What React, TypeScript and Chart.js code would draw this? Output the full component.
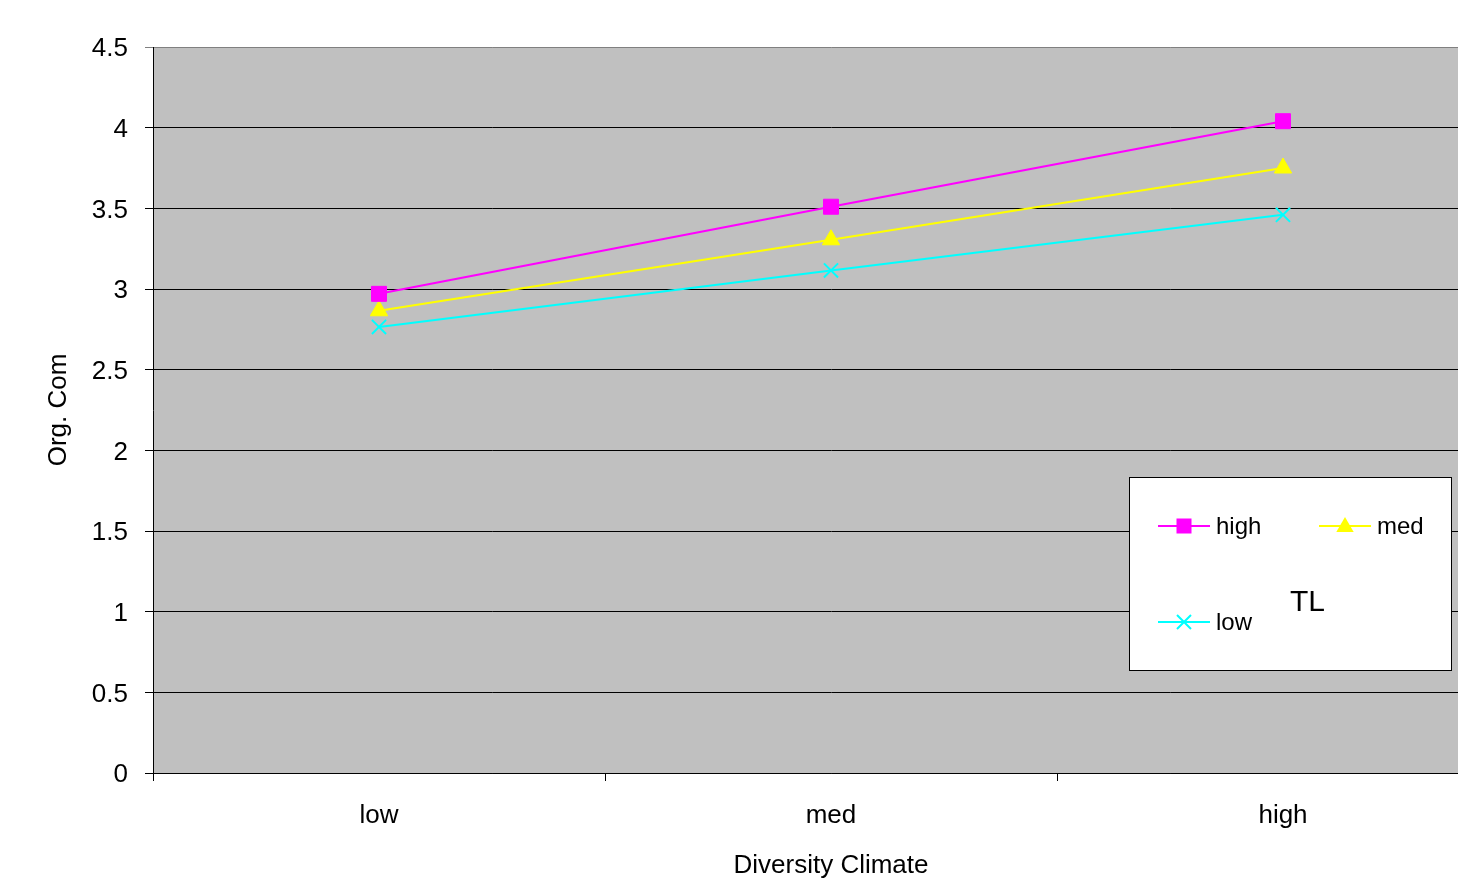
import React, { useEffect, useRef } from "react";
import { Chart, registerables } from "chart.js";

Chart.register(...registerables);

const categories = ["low", "med", "high"];
const seriesNames = ["high", "med", "low"];
const highValues = [2.97, 3.51, 4.04];
const medValues = [2.865, 3.305, 3.75];
const lowValues = [2.765, 3.115, 3.46];
const seriesColors = ["#FF00FF", "#FFFF00", "#00FFFF"];
const seriesMarkers = ["rect", "triangle", "crossRot"];
const yTitle = "Org. Com";
const xTitle = "Diversity Climate";
const legendTitle = "TL";

const FONT = "'Liberation Sans', Arial, sans-serif";

function drawMarker(ctx: CanvasRenderingContext2D, style: string, x: number, y: number, color: string) {
  ctx.save();
  ctx.fillStyle = color;
  ctx.strokeStyle = color;
  ctx.lineWidth = 2;
  if (style === "rect") {
    ctx.fillRect(x - 7.5, y - 7.5, 15, 15);
  } else if (style === "triangle") {
    ctx.beginPath();
    ctx.moveTo(x, y - 9);
    ctx.lineTo(x + 8.7, y + 6);
    ctx.lineTo(x - 8.7, y + 6);
    ctx.closePath();
    ctx.fill();
  } else {
    ctx.beginPath();
    ctx.moveTo(x - 7, y - 7);
    ctx.lineTo(x + 7, y + 7);
    ctx.moveTo(x + 7, y - 7);
    ctx.lineTo(x - 7, y + 7);
    ctx.stroke();
  }
  ctx.restore();
}

const plotBg = {
  id: "plotBg",
  beforeDraw(chart: any) {
    const { ctx, chartArea } = chart;
    ctx.save();
    ctx.fillStyle = "#C0C0C0";
    ctx.fillRect(chartArea.left, chartArea.top, chartArea.right - chartArea.left, chartArea.bottom - chartArea.top);
    ctx.restore();
  },
};

const customLegend = {
  id: "customLegend",
  afterDraw(chart: any) {
    const ctx: CanvasRenderingContext2D = chart.ctx;
    ctx.save();
    ctx.fillStyle = "#FFFFFF";
    ctx.fillRect(1129.5, 477.5, 322, 193);
    ctx.strokeStyle = "#000000";
    ctx.lineWidth = 1;
    ctx.strokeRect(1129.5, 477.5, 322, 193);
    const items = [
      { x: 1158, y: 526 },
      { x: 1319, y: 526 },
      { x: 1158, y: 622 },
    ];
    ctx.font = `24px ${FONT}`;
    ctx.textBaseline = "middle";
    ctx.textAlign = "left";
    items.forEach((it, i) => {
      ctx.strokeStyle = seriesColors[i];
      ctx.lineWidth = 2;
      ctx.beginPath();
      ctx.moveTo(it.x, it.y);
      ctx.lineTo(it.x + 52, it.y);
      ctx.stroke();
      drawMarker(ctx, seriesMarkers[i], it.x + 26, it.y, seriesColors[i]);
      ctx.fillStyle = "#000000";
      ctx.fillText(seriesNames[i], it.x + 58, it.y + 1);
    });
    ctx.font = `30px ${FONT}`;
    ctx.fillText(legendTitle, 1290, 603);
    ctx.restore();
  },
};

export default function App() {
  const ref = useRef<HTMLCanvasElement | null>(null);

  useEffect(() => {
    document.body.style.margin = "0";
    if (!ref.current) return;
    const values = [highValues, medValues, lowValues];
    const chart = new Chart(ref.current, {
      type: "line",
      data: {
        labels: categories,
        datasets: seriesNames.map((name, i) => ({
          label: name,
          data: values[i],
          borderColor: seriesColors[i],
          backgroundColor: seriesColors[i],
          borderWidth: 2,
          pointStyle: seriesMarkers[i] as any,
          pointRadius: i === 0 ? 10.6 : 10,
          pointBorderWidth: i === 2 ? 2 : 1,
          pointBorderColor: seriesColors[i],
          pointBackgroundColor: seriesColors[i],
          tension: 0,
        })),
      },
      options: {
        responsive: false,
        animation: false,
        devicePixelRatio: 1,
        layout: { padding: { top: 47, left: 0, right: 0, bottom: 0 } },
        plugins: {
          legend: { display: false },
          tooltip: { enabled: false },
        },
        scales: {
          x: {
            offset: true,
            grid: {
              offset: true,
              drawOnChartArea: false,
              drawTicks: true,
              tickLength: 8,
              color: "#000000",
            },
            border: { display: true, color: "#000000", width: 1 },
            ticks: {
              color: "#000000",
              padding: 19,
              maxRotation: 0,
              font: { family: FONT, size: 26 },
            },
            title: {
              display: true,
              text: xTitle,
              color: "#000000",
              font: { family: FONT, size: 26, lineHeight: 1 },
              padding: { top: 0, bottom: 0 },
            },
            afterFit(scale: any) {
              scale.height = 106;
            },
          },
          y: {
            min: 0,
            max: 4.5,
            grid: {
              color: (c: any) => (c.tick && c.tick.value === 4.5 ? "#808080" : "#000000"),
              tickLength: 8,
              drawTicks: true,
            },
            border: { display: true, color: "#000000", width: 1 },
            ticks: {
              stepSize: 0.5,
              color: "#000000",
              padding: 17,
              labelOffset: 2,
              font: { family: FONT, size: 26 },
              callback: (v: any) => String(Number(v)),
            },
            title: {
              display: true,
              text: yTitle,
              color: "#000000",
              font: { family: FONT, size: 26, lineHeight: 1 },
              padding: { top: 46, bottom: 0 },
            },
            afterFit(scale: any) {
              scale.width = 153;
            },
          },
        },
      },
      plugins: [plotBg, customLegend],
    });
    return () => chart.destroy();
  }, []);

  return (
    <div style={{ position: "fixed", left: 0, top: 0, width: 1458, height: 879, overflow: "hidden", background: "#FFFFFF" }}>
      <canvas ref={ref} width={1521} height={879} style={{ display: "block", width: 1521, height: 879 }} />
    </div>
  );
}
